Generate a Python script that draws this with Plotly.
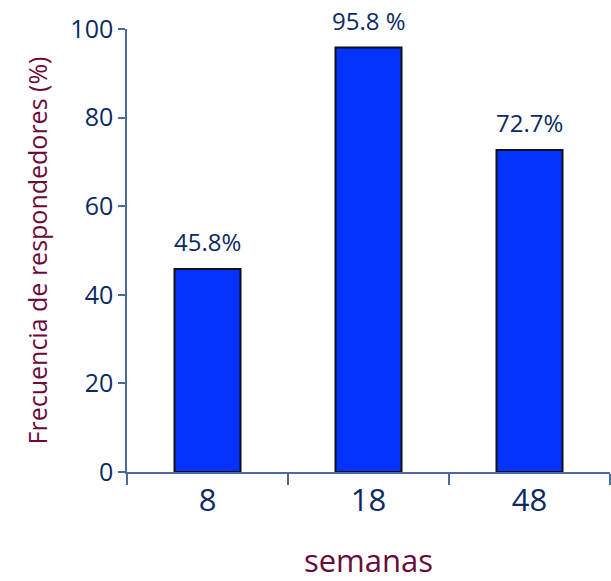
import plotly.graph_objects as go

# Responder frequency by week
semanas = ["8", "18", "48"]
frecuencia = [45.8, 95.8, 72.7]
etiquetas = ["45.8%", "95.8 %", "72.7%"]
y_ticks = [0, 20, 40, 60, 80, 100]

navy = "#0B2A63"
maroon = "#6B0A3A"
axis_col = "#4A6A9E"
font_family = "Open Sans, Noto Sans, sans-serif"

fig = go.Figure()
fig.add_trace(go.Bar(
    x=semanas,
    y=frecuencia,
    marker=dict(color="#0433FF", line=dict(color="#111111", width=2)),
    width=0.41,
    hoverinfo="skip",
))

# value labels above each bar (category index positions)
for i, (val, lab) in enumerate(zip(frecuencia, etiquetas)):
    fig.add_annotation(
        x=i, y=val, xref="x", yref="y", text=lab, showarrow=False,
        yanchor="bottom", yshift=9,
        font=dict(family=font_family, size=24, color=navy),
    )

fig.update_layout(
    width=611, height=581,
    margin=dict(l=127, r=1, t=29, b=109),
    paper_bgcolor="white", plot_bgcolor="white",
    showlegend=False,
    font=dict(family=font_family, color=navy),
)

fig.update_xaxes(
    type="category",
    range=[-0.5, 2.5],
    showline=True, linecolor=axis_col, linewidth=1.5,
    ticks="outside", tickson="boundaries", ticklen=11, tickcolor=axis_col, tickwidth=1.5,
    tickfont=dict(family=font_family, size=31, color=navy),
    title=dict(text="semanas", font=dict(family=font_family, size=31, color=maroon), standoff=38),
    showgrid=False, zeroline=False,
)

fig.update_yaxes(
    range=[0, 100],
    tickvals=y_ticks,
    showline=True, linecolor=axis_col, linewidth=1.5,
    ticks="outside", ticklen=7, tickcolor=axis_col, tickwidth=1.5,
    tickfont=dict(family=font_family, size=25, color=navy),
    title=dict(text="Frecuencia de respondedores (%)", font=dict(family=font_family, size=25, color=maroon), standoff=16),
    showgrid=False, zeroline=False,
)

fig.write_html("out.html")
